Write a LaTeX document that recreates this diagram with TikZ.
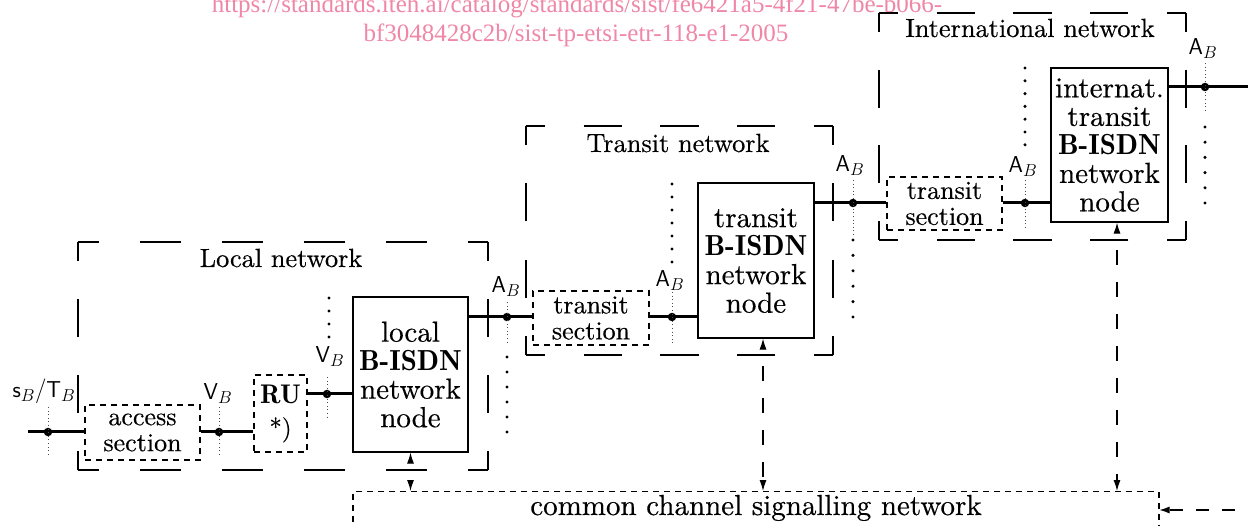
\documentclass[tikz,border=0pt]{standalone}
\usepackage{fontspec}
\usetikzlibrary{arrows.meta,calc}
% 10pt design size of Latin Modern, scaled up for the large text
\setmainfont[BoldFont=lmroman10-bold.otf, FakeBold=0.4]{lmroman10-regular.otf}
\newfontfamily\demi{lmromandemi10-regular.otf}
\newfontfamily\wmfont{Liberation Serif}
\definecolor{wmpink}{RGB}{240,135,168}

% font sizes used in the figure
\newcommand\fnode{\fontsize{29}{28.5}\selectfont}
\newcommand\fsec{\fontsize{26}{26}\selectfont}
\newcommand\flab{\fontsize{26.3}{30}\selectfont}
\newcommand\fref{\fontsize{23}{26}\selectfont}
\newcommand\fru{\fontsize{25}{33}\selectfont}
\newcommand\isdn{{\demi B-ISDN}}

% one side of a long-dashed group frame: dashes fitted so that both ends get a half dash
\newcommand\fside[5]{%
  \pgfmathsetmacro\flen{veclen(#4-#2,#5-#3)}%
  \pgfmathsetmacro\fper{\flen/max(1,round(\flen/#1))}%
  \pgfmathsetmacro\fon{\fper/2}%
  \pgfmathsetmacro\fph{\fper/4}%
  \draw[grpframe, dash pattern=on \fon pt off \fon pt, dash phase=\fph pt] (#2,#3) -- (#4,#5);}
% group frame from (x1,y1) to (x2,y2)
\newcommand\groupframe[4]{%
  \fside{77}{#1}{#2}{#3}{#2}\fside{77}{#3}{#2}{#3}{#4}%
  \fside{77}{#3}{#4}{#1}{#4}\fside{77}{#1}{#4}{#1}{#2}}

\tikzset{
  grpframe/.style={line width=1.3pt, line cap=butt},
  nodebox/.style={draw, line width=1.2pt, rectangle, inner sep=1pt, align=center, font=\fnode},
  secbox/.style={draw, line width=1.1pt, rectangle, inner sep=2pt, align=center, font=\fsec,
                 dash pattern=on 6pt off 5pt},
  thickline/.style={line width=3pt},
  rpdot/.style={circle, fill, inner sep=0pt, minimum size=8.5pt},
  finedots/.style={line width=0.9pt, dash pattern=on 1pt off 2.6pt, black!70},
  reflab/.style={font=\fref, anchor=base},
  grplab/.style={font=\flab, anchor=base},
  sig/.style={line width=1.1pt, dash pattern=on 15pt off 17pt, dash phase=15pt,
              >={Latex[length=11pt,width=7pt]}, <->},
  sigin/.style={line width=1.1pt, dash pattern=on 13pt off 13pt, dash phase=13pt,
              >={Latex[length=10pt,width=7pt]}, ->},
}

\begin{document}
\begin{tikzpicture}[x=1pt, y=-1pt]
\useasboundingbox (0,0) rectangle (1248,526);
\fill[white] (0,0) rectangle (1248,526);
\clip (0,0) rectangle (1248,526);

% watermark
\node[font=\wmfont\fontsize{25}{29}\selectfont, text=wmpink, anchor=base] (wmA) at (577,13)
  {https://standards.iteh.ai/catalog/standards/sist/fe6421a5-4f21-47be-b066-};
\node[font=\wmfont\fontsize{25}{29}\selectfont, text=wmpink, anchor=base] (wmB) at (576,42)
  {bf3048428c2b/sist-tp-etsi-etr-118-e1-2005};

% group frames and their titles
\groupframe{78}{242}{488}{470}
\groupframe{526}{126}{833}{355}
\groupframe{879}{13}{1186}{240}
\node[grplab] (tLocal) at (281,267) {Local network};
\node[grplab] (tTransit) at (678,152) {Transit network};
\node[grplab] (tIntl) at (1030,37) {International network};

% network nodes
\node[nodebox, minimum width=115pt, minimum height=155pt] (local) at (410.5,374.5)
  {local\\\isdn\\network\\node};
\node[nodebox, minimum width=116pt, minimum height=155pt] (transit) at (756,260.5)
  {transit\\\isdn\\network\\node};
\node[nodebox, minimum width=117pt, minimum height=154pt] (intl) at (1109.5,145)
  {internat.\\transit\\\isdn\\network\\node};

% sections
\node[secbox, minimum width=115pt, minimum height=55pt] (access) at (142.5,432.5) {access\\section};
\node[secbox, minimum width=116pt, minimum height=54pt] (tsecA) at (591,318) {transit\\section};
\node[secbox, minimum width=115pt, minimum height=53pt] (tsecB) at (944.5,203.5) {transit\\section};
\node[secbox, minimum width=53pt, minimum height=77pt, font=\fru] (ru) at (280.5,413.5)
  {{\demi\fontsize{27}{33}\selectfont RU}\\*)};

% signalling network
\node[secbox, minimum width=806pt, minimum height=80pt, anchor=north] (ccs) at (756,491) {};
\node[font=\fnode, anchor=base] (ccslabel) at (756,515) {common channel signalling network};

% reference points
\node[rpdot] (pSB) at (48,432) {};
\node[rpdot] (pVA) at (219,432) {};
\node[rpdot] (pVB) at (327,394) {};
\node[rpdot] (pA1) at (507,317) {};
\node[rpdot] (pA2) at (672,317) {};
\node[rpdot] (pA3) at (853,203) {};
\node[rpdot] (pA4) at (1025,203) {};
\node[rpdot] (pA5) at (1205,87) {};
\coordinate (inL) at (28,432);
\coordinate (outR) at (1248,87);

% transmission path
\draw[thickline] (inL) -- (inL -| access.west);
\draw[thickline] (pVA -| access.east) -- (pVA -| ru.west);
\draw[thickline] (pVB -| ru.east) -- (pVB -| local.west);
\draw[thickline] (pA1 -| local.east) -- (pA1 -| tsecA.west);
\draw[thickline] (pA2 -| tsecA.east) -- (pA2 -| transit.west);
\draw[thickline] (pA3 -| transit.east) -- (pA3 -| tsecB.west);
\draw[thickline] (pA4 -| tsecB.east) -- (pA4 -| intl.west);
\draw[thickline] (pA5 -| intl.east) -- (outR);

% fine dotted lines through the reference points
\draw[finedots] (pSB) ++(0,-25) -- ++(0,50);
\draw[finedots] (pVA) ++(0,-25) -- ++(0,50);
\draw[finedots] (pVB) ++(0,-17) -- ++(0,43);
\draw[finedots] (pA1) ++(0,-15) -- ++(0,43);
\draw[finedots] (pA2) ++(0,-25) -- ++(0,51);
\draw[finedots] (pA3) ++(0,-23) -- ++(0,57);
\draw[finedots] (pA4) ++(0,-23) -- ++(0,50);
\draw[finedots] (pA5) ++(0,-24) -- ++(0,47);

% coarse dotted continuations
\foreach \k in {0,...,3} \fill (329,298+13*\k) circle (1.7pt);
\foreach \k in {0,...,5} \fill (507,357+15*\k) circle (1.7pt);
\foreach \k in {0,...,6} \fill (672,184+13*\k) circle (1.7pt);
\foreach \k in {0,...,5} \fill (853,240+15.4*\k) circle (1.7pt);
\foreach \k in {0,...,6} \fill (1025,68+12.8*\k) circle (1.7pt);
\foreach \k in {0,...,5} \fill (1205,127+15.2*\k) circle (1.7pt);

% reference point labels
\node[reflab] (lSB) at (44,398) {$\mathsf{s}_B/\mathsf{T}_B$};
\node[reflab] (lVA) at (218,400) {$\mathsf{V}_B$};
\node[reflab] (lVB) at (330,363) {$\mathsf{V}_B$};
\node[reflab] (lA1) at (506,293) {$\mathsf{A}_B$};
\node[reflab] (lA2) at (670,287) {$\mathsf{A}_B$};
\node[reflab] (lA3) at (850,172) {$\mathsf{A}_B$};
\node[reflab] (lA4) at (1023,173) {$\mathsf{A}_B$};
\node[reflab] (lA5) at (1203,55) {$\mathsf{A}_B$};

% signalling links
\draw[sig] (local.south) -- (local.south |- ccs.north);
\draw[sig] ($(transit.south)+(7,0)$) -- ($(transit.south |- ccs.north)+(7,0)$);
\draw[sig] ($(intl.south)+(7.5,0)$) -- ($(intl.south |- ccs.north)+(7.5,0)$);
\coordinate (ccsin) at (1248,510);
\draw[sigin] (ccsin) -- (ccsin -| ccs.east);
\end{tikzpicture}
\end{document}
